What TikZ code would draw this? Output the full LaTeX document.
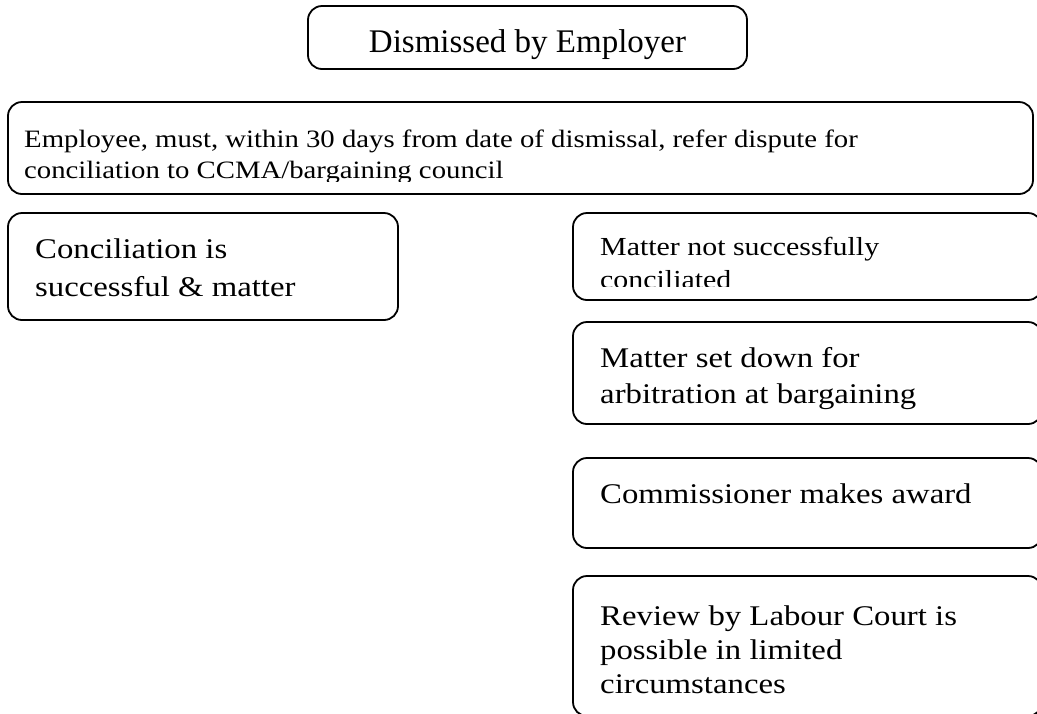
\documentclass[tikz,border=0pt]{standalone}
\usepackage{fontspec}
\setmainfont{Liberation Serif}[FakeStretch=1.15]
\newfontfamily\plainserif{Liberation Serif}
\begin{document}
\begin{tikzpicture}[x=1pt,y=-1pt,
  box/.style={draw, line width=1.8pt, rounded corners=14pt, inner sep=0pt},
  txt/.style={anchor=base west, inner sep=0pt, font=\fontsize{28.5}{34}\selectfont},
  smalltxt/.style={anchor=base west, inner sep=0pt, font=\fontsize{26}{31}\selectfont},
  widetxt/.style={anchor=base west, inner sep=0pt, font=\fontsize{25}{31}\selectfont},
  titletxt/.style={anchor=base, inner sep=0pt, font=\plainserif\fontsize{33}{38}\selectfont}]
\useasboundingbox (0,0) rectangle (1037,713);

% boxes
\node[box, minimum width=439pt, minimum height=63pt] (b1) at (527.5,37.5) {};
\node[box, minimum width=1025pt, minimum height=92pt] (b2) at (520.5,148) {};
\node[box, minimum width=390pt, minimum height=107pt] (b3) at (203,266.5) {};
\node[box, minimum width=469pt, minimum height=87pt] (b4) at (807.5,256.5) {};
\node[box, minimum width=469pt, minimum height=102pt] (b5) at (807.5,373) {};
\node[box, minimum width=469pt, minimum height=90pt] (b6) at (807.5,503) {};
\node[box, minimum width=469pt, minimum height=140pt] (b7) at (807.5,646) {};

% texts
\node[titletxt] (t1) at (527.5,52) {Dismissed by Employer};

\node[widetxt] (t2a) at (24,147) {Employee, must, within 30 days from date of dismissal, refer dispute for};
\begin{scope}
  \clip (10,150) rectangle (1030,181);
  \node[widetxt] (t2b) at (24,178) {conciliation to CCMA/bargaining council};
\end{scope}

\node[txt] (t3a) at (35,258) {Conciliation is};
\node[txt] (t3b) at (35,296) {successful \& matter};

\node[smalltxt] (t4a) at (600,255) {Matter not successfully};
\begin{scope}
  \clip (575,260) rectangle (1037,286);
  \node[smalltxt] (t4b) at (600,288) {conciliated};
\end{scope}

\node[txt] (t5a) at (600,367) {Matter set down for};
\begin{scope}
  \clip (575,370) rectangle (1037,410);
  \node[txt] (t5b) at (600,403) {arbitration at bargaining};
\end{scope}

\node[txt] (t6) at (600,503) {Commissioner makes award};

\node[txt] (t7a) at (600,625) {Review by Labour Court is};
\node[txt] (t7b) at (600,659) {possible in limited};
\node[txt] (t7c) at (600,693) {circumstances};
\end{tikzpicture}
\end{document}
